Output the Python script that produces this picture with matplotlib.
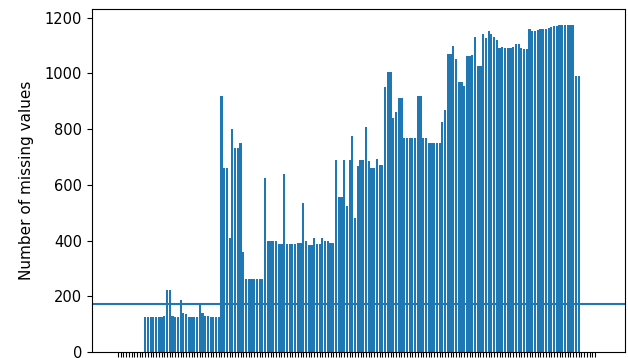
import numpy as np
import matplotlib.pyplot as plt

# missing-value counts per column (columns with no gaps at both ends)
lead_zeros = [0] * 10
block_a = [125, 125, 125, 125, 125, 125, 125, 128, 223, 223,
           130, 125, 125, 187, 140, 135, 127, 127, 127, 127,
           172, 140, 130, 130, 127, 127, 127, 125]
block_b = [918, 660, 660, 410, 801, 733, 733, 751, 358, 262,
           262, 262, 262, 262, 262, 262, 626, 398, 398, 398,
           398, 386, 386, 638, 386, 386, 386, 386, 392, 392,
           536, 398, 384, 384, 410, 386, 386, 410, 398, 398,
           392, 392, 688, 557, 557, 688, 524]
block_c = [688, 775, 479, 666, 688, 688, 809, 684, 660, 660,
           694, 672, 672, 950, 1004, 1004, 839, 861, 911, 911,
           768, 768, 768, 768, 768, 917, 917, 768, 768, 751,
           751, 751, 751, 751, 825, 867, 1069, 1069, 1099, 1051,
           968, 968, 956, 1061]
block_d = [1061, 1066, 1132, 1025, 1025, 1141, 1127, 1150, 1141, 1129,
           1120, 1089, 1093, 1089, 1089, 1089, 1093, 1105, 1105, 1089,
           1087, 1087, 1158, 1150, 1150, 1154, 1158, 1158, 1158, 1162,
           1165, 1170, 1170, 1172, 1172, 1172, 1172, 1172, 1172, 989,
           989]
trail_zeros = [0] * 6
threshold = 172

missing = lead_zeros + block_a + block_b + block_c + block_d + trail_zeros
cols = np.arange(len(missing))

fig = plt.figure(figsize=(6.28, 3.58), dpi=100)
ax = fig.add_axes([0.1465, 0.0168, 0.8487, 0.958])
ax.bar(cols, missing, color='#1f77b4')
ax.axhline(threshold, color='#1f77b4', linewidth=1.5)
ax.set_xticks(cols)
ax.set_xticklabels([])
ax.set_xlim(-9.5, len(missing) + 10)
ax.set_ylabel('Number of missing values', fontsize=11, labelpad=8)
ax.tick_params(axis='y', labelsize=10.5)

fig.savefig('out.png', dpi=100)
